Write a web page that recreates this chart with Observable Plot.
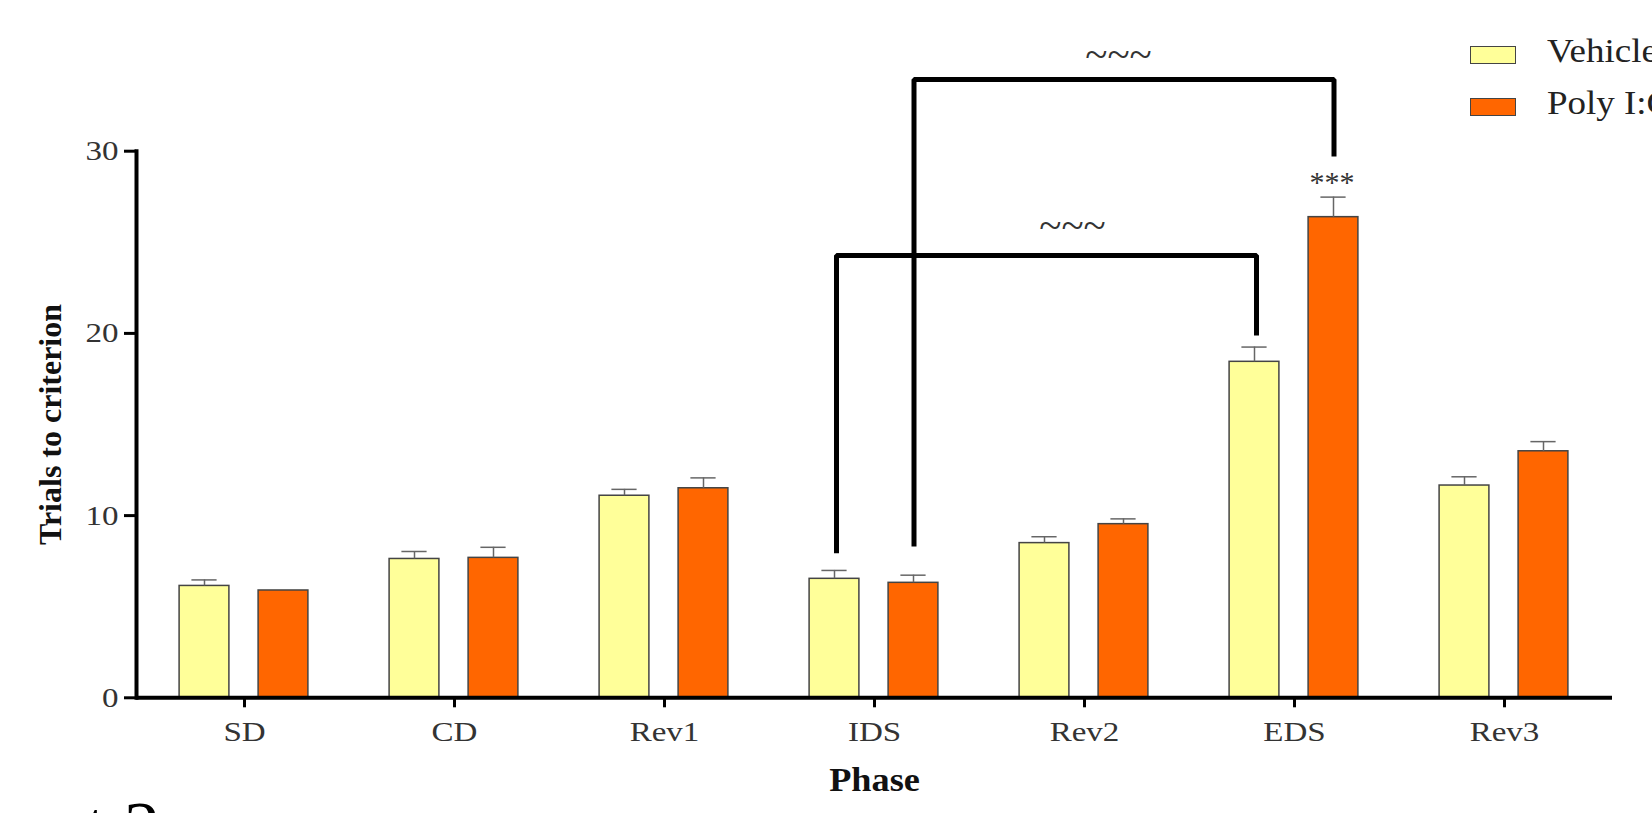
<!DOCTYPE html>
<html>
<head>
<meta charset="utf-8">
<script src="https://cdn.jsdelivr.net/npm/d3@7"></script>
<script src="https://cdn.jsdelivr.net/npm/@observablehq/plot@0.6"></script>
<style>
  html, body { margin: 0; padding: 0; background: #fff; }
  body { width: 1652px; height: 813px; overflow: hidden; position: relative; font-family: "Liberation Serif", serif; }
  #chart { position: absolute; left: 0; top: 0; }
  .sw { position: absolute; width: 46px; height: 18px; box-sizing: border-box; border: 1.5px solid #444; }
  .lt { position: absolute; font-size: 33px; line-height: 33px; color: #222; white-space: nowrap; transform: scaleX(1.12); transform-origin: left center; }
  .stray { position: absolute; left: 0; top: 791px; width: 160px; text-align: right; font-size: 72px; line-height: 72px; white-space: nowrap; color: #000; }
</style>
</head>
<body>
<div id="chart"></div>
<div class="sw" style="left:1470px; top:46px; background:#FFFF99;"></div>
<div class="lt" style="left:1547px; top:35px;">Vehicle</div>
<div class="sw" style="left:1470px; top:98px; background:#FF6600;"></div>
<div class="lt" style="left:1547px; top:87px;">Poly I:C</div>
<div class="stray">t 2</div>
<script>
// ---- data ----
const phases = ["SD", "CD", "Rev1", "IDS", "Rev2", "EDS", "Rev3"];
const groups = ["Vehicle", "Poly I:C"];
const vehicleMean = [6.14, 7.62, 11.09, 6.53, 8.49, 18.44, 11.65];
const vehicleSEM  = [0.33, 0.41, 0.35, 0.46, 0.35, 0.81, 0.48];
const polyMean    = [5.89, 7.68, 11.50, 6.31, 9.53, 26.38, 13.53];
const polySEM     = [0,    0.58, 0.57, 0.42, 0.29, 1.10, 0.53];
const yTicks = [0, 10, 20, 30];

// comparison brackets (IDS vs EDS) for each group: [left end, top, right end]
const vehicleBracketPhases = ["IDS", "IDS", "EDS", "EDS"];
const vehicleBracketY = [7.94, 24.28, 24.28, 19.88];
const polyBracketPhases = ["IDS", "IDS", "EDS", "EDS"];
const polyBracketY = [8.30, 33.93, 33.93, 29.71];
const tildeLabels = ["~~~", "~~~"];
const tildeY = [25.9, 35.27];
const starLabel = "***";
const starPhase = "EDS";
const starY = 28.3;

// ---- tables built from arrays ----
const vehicle = phases.map((p, i) => ({phase: p, group: groups[0], mean: vehicleMean[i], sem: vehicleSEM[i]}));
const poly = phases.map((p, i) => ({phase: p, group: groups[1], mean: polyMean[i], sem: polySEM[i]}));
const vBracket = vehicleBracketPhases.map((p, i) => ({phase: p, y: vehicleBracketY[i]}));
const pBracket = polyBracketPhases.map((p, i) => ({phase: p, y: polyBracketY[i]}));

const FONT = "'Liberation Serif', serif";
const dxV = -40, dxP = 39;
const barInset = 80.1, capInset = 92.4;

const chart = Plot.plot({
  width: 1652,
  height: 813,
  marginLeft: 136,
  marginRight: 40,
  marginTop: 150.7,
  marginBottom: 115.7,
  style: {fontFamily: FONT, background: "white", color: "black", overflow: "visible"},
  x: {type: "band", domain: phases, padding: 0},
  y: {domain: [0, 30]},
  marks: [
    // bars
    Plot.barY(vehicle, {x: "phase", y: "mean", fill: "#FFFF99", stroke: "#444", strokeWidth: 1.5, insetLeft: barInset, insetRight: barInset, dx: dxV}),
    Plot.barY(poly, {x: "phase", y: "mean", fill: "#FF6600", stroke: "#444", strokeWidth: 1.5, insetLeft: barInset, insetRight: barInset, dx: dxP}),
    // error bars (upper only)
    Plot.ruleX(vehicle.filter(d => d.sem > 0), {x: "phase", y1: "mean", y2: d => d.mean + d.sem, stroke: "#666", strokeWidth: 1.5, dx: dxV}),
    Plot.tickY(vehicle.filter(d => d.sem > 0), {x: "phase", y: d => d.mean + d.sem, stroke: "#666", strokeWidth: 1.5, insetLeft: capInset, insetRight: capInset, dx: dxV}),
    Plot.ruleX(poly.filter(d => d.sem > 0), {x: "phase", y1: "mean", y2: d => d.mean + d.sem, stroke: "#666", strokeWidth: 1.5, dx: dxP}),
    Plot.tickY(poly.filter(d => d.sem > 0), {x: "phase", y: d => d.mean + d.sem, stroke: "#666", strokeWidth: 1.5, insetLeft: capInset, insetRight: capInset, dx: dxP}),
    // axes
    Plot.frame({anchor: "left", stroke: "black", strokeWidth: 4}),
    Plot.ruleY([0], {stroke: "black", strokeWidth: 4}),
    Plot.axisY({ticks: yTicks, tickSize: 12, tickPadding: 6, fontSize: 28, stroke: "black", strokeWidth: 3, fill: "#333", label: null}),
    Plot.axisX({tickSize: 10, tickPadding: 13, fontSize: 28, stroke: "black", strokeWidth: 3, fill: "#333", label: null}),
    Plot.text(["Trials to criterion"], {text: d => d, frameAnchor: "left", textAnchor: "middle", dx: -86, rotate: -90, fontSize: 32, fontWeight: "bold", fill: "#111", lineAnchor: "middle"}),
    Plot.text(["Phase"], {text: d => d, frameAnchor: "bottom", dy: 92.7, lineAnchor: "bottom", fontSize: 33, fontWeight: "bold", fill: "#111"}),
    // brackets
    Plot.line(vBracket, {x: "phase", y: "y", stroke: "black", strokeWidth: 5, strokeLinejoin: "miter", strokeLinecap: "butt", dx: -38}),
    Plot.line(pBracket, {x: "phase", y: "y", stroke: "black", strokeWidth: 5, strokeLinejoin: "miter", strokeLinecap: "butt", dx: 39.5}),
    Plot.text([tildeLabels[0]], {x: () => "Rev2", y: () => tildeY[0], text: d => d, dx: -12, fontSize: 41, fill: "#333", lineAnchor: "middle"}),
    Plot.text([tildeLabels[1]], {x: () => "Rev2", y: () => tildeY[1], text: d => d, dx: 34, fontSize: 41, fill: "#333", lineAnchor: "middle"}),
    Plot.text([starLabel], {x: () => starPhase, y: () => starY, text: d => d, dx: 37.6, fontSize: 30, fill: "#333", lineAnchor: "middle"})
  ]
});

// the source figure's lettering is horizontally widened: stretch tick labels and axis title glyphs
const stretch = new Map([...phases.map(p => [p, 1.18]), ...yTicks.map(t => [String(t), 1.18]), ["Phase", 1.1]]);
chart.querySelectorAll("text").forEach(t => {
  const k = stretch.get(t.textContent.trim());
  const tr = t.getAttribute("transform");
  if (k && tr && tr.includes("translate") && !tr.includes("rotate")) t.setAttribute("transform", `${tr} scale(${k},1)`);
});
document.getElementById("chart").appendChild(chart);
</script>
</body>
</html>
